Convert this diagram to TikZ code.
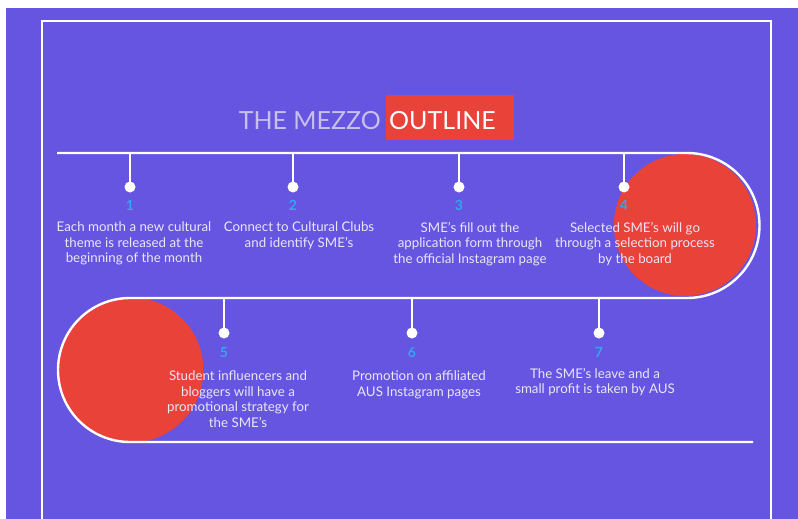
\documentclass[tikz,border=0pt]{standalone}
\usepackage{fontspec}
\setmainfont{Lato}
\definecolor{bg}{RGB}{101,85,224}
\definecolor{rd}{RGB}{233,66,56}
\definecolor{nb}{RGB}{52,165,240}
\definecolor{tx}{RGB}{234,230,248}
\definecolor{tt}{RGB}{198,192,234}
\begin{document}
\begin{tikzpicture}[x=1pt,y=-1pt,
 track/.style={draw=white,line width=2.4pt},
 stem/.style={draw=white,line width=2pt},
 dotn/.style={circle,fill=white,inner sep=0pt,minimum size=11pt},
 num/.style={text=nb,inner sep=0pt,font=\fontsize{14}{16}\selectfont\bfseries},
 desc/.style={text=tx,align=center,inner sep=0pt,anchor=north,font=\fontsize{13.3}{15.5}\selectfont},
 ttl/.style={inner sep=0pt,anchor=base,font=\fontsize{25}{28}\selectfont},
]
\useasboundingbox (0,0) rectangle (798,519);
\fill[white] (0,0) rectangle (798,519);
\fill[bg] (6,8) rectangle (798,519);
\draw[white,line width=1.5pt] (42,519) -- (42,21) -- (771,21) -- (771,519);
% red circles
\fill[rd] (685,225) circle (71);
\fill[rd] (131,370) circle (72.5);
% track
\coordinate (a0) at (57,153);
\coordinate (a1) at (687,153);
\coordinate (a2) at (130,298);
\coordinate (a3) at (753,442);
\draw[track] (a0) -- (a1) arc (-90:90:72.5) -- (a2) arc (270:90:72) -- (a3);
% title
\fill[rd] (386,95) rectangle (514,140);
\node[ttl,anchor=base east,text=tt] (t1) at (381,129) {THE MEZZO};
\node[ttl,anchor=base west,text=white] (t2) at (389,129) {OUTLINE};
% top steps
\foreach \i/\x in {1/130,2/293,3/459,4/624}{
  \coordinate (s\i) at (\x,153);
  \node[dotn] (d\i) at (\x,187) {};
  \draw[stem] (s\i) -- (d\i.center);
  \node[num] (n\i) at (\x,205) {\i};
}
\foreach \i/\x in {5/224,6/412,7/599}{
  \coordinate (s\i) at (\x,298);
  \node[dotn] (d\i) at (\x,333) {};
  \draw[stem] (s\i) -- (d\i.center);
  \node[num] (n\i) at (\x,352) {\i};
}
\node[desc] (e1) at (134,222) {Each month a new cultural\\theme is released at the\\beginning of the month};
\node[desc] (e2) at (299,222) {Connect to Cultural Clubs\\and identify SME's};
\node[desc] (e3) at (470,222) {SME's fill out the\\application form through\\the official Instagram page};
\node[desc] (e4) at (635,222) {Selected SME's will go\\through a selection process\\by the board};
\node[desc] (e5) at (238,371) {Student influencers and\\bloggers will have a\\promotional strategy for\\the SME's};
\node[desc] (e6) at (419,371) {Promotion on affiliated\\AUS Instagram pages};
\node[desc] (e7) at (595,368) {The SME's leave and a\\small profit is taken by AUS};
\end{tikzpicture}
\end{document}
